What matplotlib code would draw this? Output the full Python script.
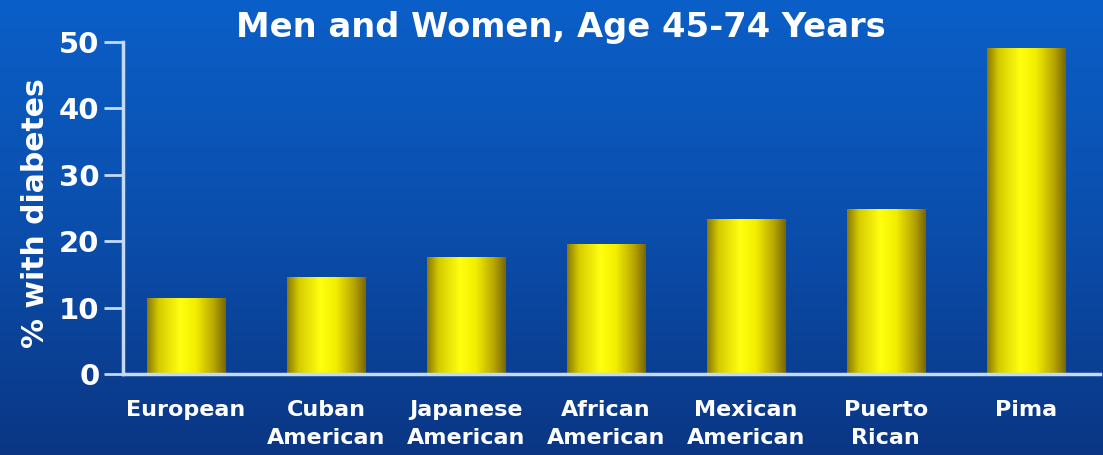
import numpy as np
import matplotlib
matplotlib.use("Agg")
import matplotlib.pyplot as plt
from matplotlib.colors import LinearSegmentedColormap

# Prevalence of diabetes by population group
groups = ["European", "Cuban\nAmerican", "Japanese\nAmerican", "African\nAmerican",
          "Mexican\nAmerican", "Puerto\nRican", "Pima"]
pct_diabetes = [11.4, 14.6, 17.6, 19.6, 23.3, 24.8, 49.1]
y_ticks = [0, 10, 20, 30, 40, 50]
title = "Men and Women, Age 45-74 Years"
y_label = "% with diabetes"

W, H = 1103, 455
fig = plt.figure(figsize=(W / 100, H / 100), dpi=100)

# vertical blue gradient backdrop
bg = fig.add_axes([0, 0, 1, 1], zorder=0)
bg_cmap = LinearSegmentedColormap.from_list("bg", ["#0a5fc8", "#0b4eac", "#0a3684"])
bg.imshow(np.linspace(0, 1, 256).reshape(-1, 1), aspect="auto", cmap=bg_cmap,
          extent=[0, 1, 0, 1])
bg.set_axis_off()

axis_col = "#c4daf4"
ax = fig.add_axes([123 / W, 1 - 374 / H, (1100 - 123) / W, (374 - 42) / H], zorder=1)
ax.patch.set_alpha(0)

x = np.arange(len(groups))
bars = ax.bar(x, pct_diabetes, width=0.56, color="none", edgecolor="none")

# cylinder-like shading across each bar
cyl = LinearSegmentedColormap.from_list(
    "cyl", [(0.0, "#8a7a05"), (0.15, "#d6cc00"), (0.42, "#ffff10"),
            (0.62, "#f2ee00"), (0.85, "#b8a600"), (1.0, "#7a6800")])
shade = np.linspace(0, 1, 200).reshape(1, -1)
for b in bars:
    x0, w, h = b.get_x(), b.get_width(), b.get_height()
    im = ax.imshow(shade, cmap=cyl, aspect="auto", extent=[x0, x0 + w, 0, h],
                   zorder=2, interpolation="bilinear")
    im.set_clip_path(b)

ax.set_xlim(-0.45, 6.53)
ax.set_ylim(0, 50)
ax.set_aspect("auto")

for s in ("top", "right"):
    ax.spines[s].set_visible(False)
for s in ("left", "bottom"):
    ax.spines[s].set_color(axis_col)
    ax.spines[s].set_linewidth(2.5)
    ax.spines[s].set_zorder(3)

font = "DejaVu Sans"
ax.set_yticks(y_ticks)
ax.set_yticklabels([str(t) for t in y_ticks], fontsize=21, fontweight="bold",
                   color="white", family=font)
ax.tick_params(axis="y", length=14, width=2, color=axis_col, pad=3)
ax.set_xticks(x)
ax.set_xticklabels(groups, fontsize=16, fontweight="bold", color="white",
                   family=font, linespacing=1.45)
ax.tick_params(axis="x", length=0, pad=19)

fig.text(35 / W, 1 - 213 / H, y_label, rotation=90, ha="center", va="center",
         fontsize=21.5, fontweight="bold", color="white", family=font)
fig.text(561 / W, 1 - 27 / H, title, ha="center", va="center",
         fontsize=24.3, fontweight="bold", color="white", family=font)

fig.savefig("out.png", dpi=100)
